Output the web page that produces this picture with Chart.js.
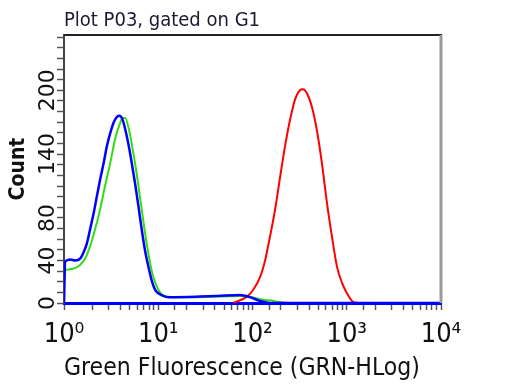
<!DOCTYPE html>
<html><head><meta charset="utf-8">
<script src="https://cdn.jsdelivr.net/npm/chart.js@4"></script>
<style>html,body{margin:0;padding:0;background:#fff}</style>
</head><body>
<canvas id="c" width="512" height="384"></canvas>
<script>
const chartTitle = 'Plot P03, gated on G1';
const xAxisTitle = 'Green Fluorescence (GRN-HLog)';
const yAxisTitle = 'Count';
const yTickLabels = [0, 40, 80, 140, 200];
const xTickLabels = {1: '10\u2070', 10: '10\u00b9', 100: '10\u00b2', 1000: '10\u00b3', 10000: '10\u2074'};

const blueFL = [1, 1.03, 1.16, 1.32, 1.49, 1.62, 1.75, 1.90, 2.07, 2.24, 2.43, 2.64, 2.86, 3.10, 3.37, 3.65, 3.86, 4.20, 4.55, 4.93, 5.27, 5.71, 6.21, 6.73, 7.29, 7.92, 8.59, 9.31, 10.5, 11.9, 13.3, 27.7, 42.0, 73.7, 94.0, 120, 153, 10000];
const blueCount = [0, 39, 41, 40, 42, 48, 56, 70, 85, 101, 117, 132, 148, 160, 170, 175, 176, 172, 160, 145, 130, 111, 89, 67, 48, 33, 20, 12, 8, 6, 5.5, 6, 6.5, 7.5, 5.5, 2, 0, 0];

const greenFL = [1.03, 1.32, 1.49, 1.68, 1.90, 2.15, 2.43, 2.74, 3.10, 3.50, 3.86, 4.20, 4.47, 4.86, 5.27, 5.71, 6.21, 6.73, 7.29, 7.92, 8.59, 9.31, 10.1, 11.0, 12.4, 27.7, 42.0, 73.7, 94.0, 120, 153, 190, 240];
const greenCount = [31, 33, 36, 42, 54, 70, 89, 111, 132, 155, 167, 174, 174, 164, 148, 130, 108, 86, 64, 45, 29, 19, 12, 8, 5.5, 5.5, 6, 6.5, 6, 3.5, 2.5, 1, 0];

const redFL = [62.1, 87.4, 101, 120, 136, 153, 173, 196, 221, 250, 282, 319, 344, 379, 428, 483, 546, 617, 698, 788, 891, 1007, 1165, 1318];
const redCount = [0, 6, 12, 24, 40, 62, 87, 118, 147, 172, 191, 200, 201, 197, 184, 162, 131, 94, 62, 34, 19, 9, 1, 0];

const pts = (xs, ys) => xs.map((x, i) => ({x: x, y: ys[i]}));

const COND = "'DejaVu Sans Condensed', 'Liberation Sans Narrow', 'DejaVu Sans', sans-serif";
Chart.defaults.font.family = "'DejaVu Sans', sans-serif";
Chart.defaults.color = '#111';

const framePlugin = {
  id: 'frame',
  afterDraw(chart) {
    const {ctx, chartArea: a} = chart;
    ctx.save();
    ctx.strokeStyle = '#222';
    ctx.lineWidth = 2;
    ctx.beginPath(); ctx.moveTo(a.left, a.top); ctx.lineTo(a.right + 1, a.top); ctx.stroke();
    ctx.strokeStyle = '#999';
    ctx.lineWidth = 3;
    ctx.beginPath(); ctx.moveTo(a.right, a.top); ctx.lineTo(a.right, a.bottom); ctx.stroke();
    ctx.restore();
  }
};

const lineDs = (data, color, width, order) => ({
  data: data, borderColor: color, borderWidth: width, pointRadius: 0,
  fill: false, cubicInterpolationMode: 'monotone', order: order
});

new Chart(document.getElementById('c'), {
  type: 'line',
  data: {
    datasets: [
      lineDs(pts(blueFL, blueCount), '#0000ff', 2.5, 0),
      lineDs(pts(greenFL, greenCount), '#33dd11', 2, 1),
      lineDs(pts(redFL, redCount), '#ff0000', 2, 2)
    ]
  },
  options: {
    responsive: false,
    animation: false,
    devicePixelRatio: 1,
    layout: {padding: {left: 0, right: 71, top: 0, bottom: 0}},
    plugins: {
      legend: {display: false},
      tooltip: {enabled: false},
      title: {
        display: true, text: chartTitle, align: 'start', fullSize: false,
        font: {family: COND, size: 20, weight: 'normal'}, color: '#1a1a33',
        padding: {top: 9, bottom: 2}
      }
    },
    scales: {
      x: {
        type: 'logarithmic', position: 'bottom', min: 1, max: 10000,
        ticks: {
          autoSkip: false, minRotation: 0, maxRotation: 0, padding: 9,
          font: {family: COND, size: 27}, color: '#111',
          callback: (v) => xTickLabels[Math.round(v)] !== undefined && Math.abs(v - Math.round(v)) < 1e-6 ? xTickLabels[Math.round(v)] : ''
        },
        grid: {drawOnChartArea: false, tickLength: 7, color: '#555', tickWidth: 1.5},
        border: {color: '#0000ff', width: 3},
        title: {display: true, text: xAxisTitle, align: 'start', font: {family: COND, size: 24.5}, color: '#111', padding: {top: 0, bottom: 1}},
        afterFit: (s) => { s.height = 81; }
      },
      y: {
        type: 'linear', position: 'left', min: 0, max: 252,
        ticks: {
          stepSize: 10, includeBounds: false, autoSkip: false,
          minRotation: 90, maxRotation: 90, crossAlign: 'center', padding: -12,
          font: {size: 22}, color: '#111',
          callback: (v) => yTickLabels.includes(v) ? String(v) : ''
        },
        grid: {drawOnChartArea: false, tickLength: 7, color: '#555', tickWidth: 1.5},
        border: {color: '#444', width: 2},
        title: {display: true, text: yAxisTitle, font: {family: COND, size: 21, weight: 'bold'}, color: '#111', padding: {top: 6, bottom: 0}},
        afterFit: (s) => { s.width = 64; }
      }
    }
  },
  plugins: [framePlugin]
});
</script>
</body></html>
